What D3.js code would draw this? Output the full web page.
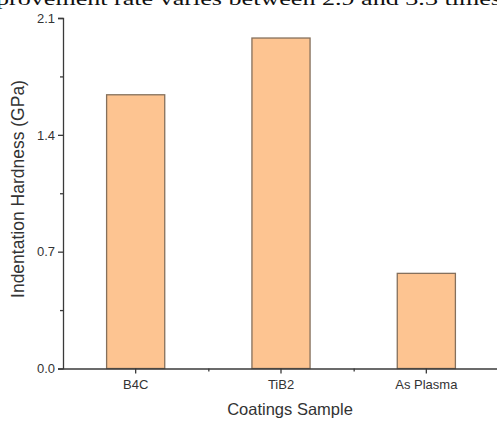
<!DOCTYPE html>
<html>
<head>
<meta charset="utf-8">
<script src="https://cdn.jsdelivr.net/npm/d3@7"></script>
<style>
  html, body { margin: 0; padding: 0; background: #fff; }
  svg { display: block; }
</style>
</head>
<body>
<svg id="chart" width="497" height="421"></svg>
<script>
// Coating samples and their measured indentation hardness (GPa)
const categories = ["B4C", "TiB2", "As Plasma"];
const hardness = [1.64, 1.98, 0.57];
const yMajorTicks = [0.0, 0.7, 1.4, 2.1];
const yMinorTicks = [0.35, 1.05, 1.75];

(function draw() {
  const svg = d3.select("#chart");
  const plotLeft = 63, plotRight = 499, plotTop = 18, plotBottom = 368.5;
  const axisColor = "#3a3a3a";
  const textColor = "#333";
  const font = "'Liberation Sans', Arial, sans-serif";

  // Line of running text from the surrounding page, cut by the top edge
  svg.append("text")
    .attr("x", -4).attr("y", 5)
    .attr("font-family", "'Liberation Serif', 'Times New Roman', serif")
    .attr("font-size", 19)
    .attr("fill", "#111")
    .attr("textLength", 505)
    .attr("lengthAdjust", "spacingAndGlyphs")
    .text("provement rate varies between 2.9 and 3.3 times");

  const x = d3.scaleBand()
    .domain(categories)
    .range([plotLeft, plotRight])
    .paddingInner(0.6)
    .paddingOuter(0.3);

  const y = d3.scaleLinear().domain([0, 2.1]).range([plotBottom, plotTop]);

  // Bars
  svg.append("g")
    .selectAll("rect")
    .data(categories)
    .join("rect")
    .attr("x", d => x(d))
    .attr("y", (d, i) => y(hardness[i]))
    .attr("width", x.bandwidth())
    .attr("height", (d, i) => y(0) - y(hardness[i]))
    .attr("fill", "#fdc491")
    .attr("stroke", "#85705c")
    .attr("stroke-width", 1.3);

  // Y axis: major ticks with labels
  svg.append("g")
    .attr("transform", `translate(${plotLeft},0)`)
    .call(d3.axisLeft(y).tickValues(yMajorTicks).tickFormat(d3.format(".1f")).tickSize(5).tickPadding(3));
  // Y axis: minor ticks
  svg.append("g")
    .attr("transform", `translate(${plotLeft},0)`)
    .call(d3.axisLeft(y).tickValues(yMinorTicks).tickFormat("").tickSize(3))
    .select(".domain").remove();

  // X axis: category ticks
  svg.append("g")
    .attr("transform", `translate(0,${plotBottom})`)
    .call(d3.axisBottom(x).tickSize(5).tickPadding(6).tickSizeOuter(0));
  // X axis: minor ticks between categories
  const xMinor = d3.scaleLinear().domain([0, categories.length]).range([plotLeft, plotRight]);
  svg.append("g")
    .attr("transform", `translate(0,${plotBottom})`)
    .call(d3.axisBottom(xMinor).tickValues([1, 2]).tickFormat("").tickSize(3))
    .select(".domain").remove();

  svg.selectAll(".domain, .tick line")
    .attr("stroke", axisColor)
    .attr("stroke-width", 1.3);
  svg.selectAll(".tick text")
    .attr("fill", textColor)
    .attr("font-family", font)
    .attr("font-size", 13);

  // Axis titles
  svg.append("text")
    .attr("x", 290).attr("y", 415)
    .attr("text-anchor", "middle")
    .attr("font-family", font)
    .attr("font-size", 16.5)
    .attr("fill", textColor)
    .text("Coatings Sample");

  svg.append("text")
    .attr("transform", `translate(24,189) rotate(-90)`)
    .attr("text-anchor", "middle")
    .attr("font-family", font)
    .attr("font-size", 17.5)
    .attr("fill", textColor)
    .text("Indentation Hardness (GPa)");
})();
</script>
</body>
</html>
